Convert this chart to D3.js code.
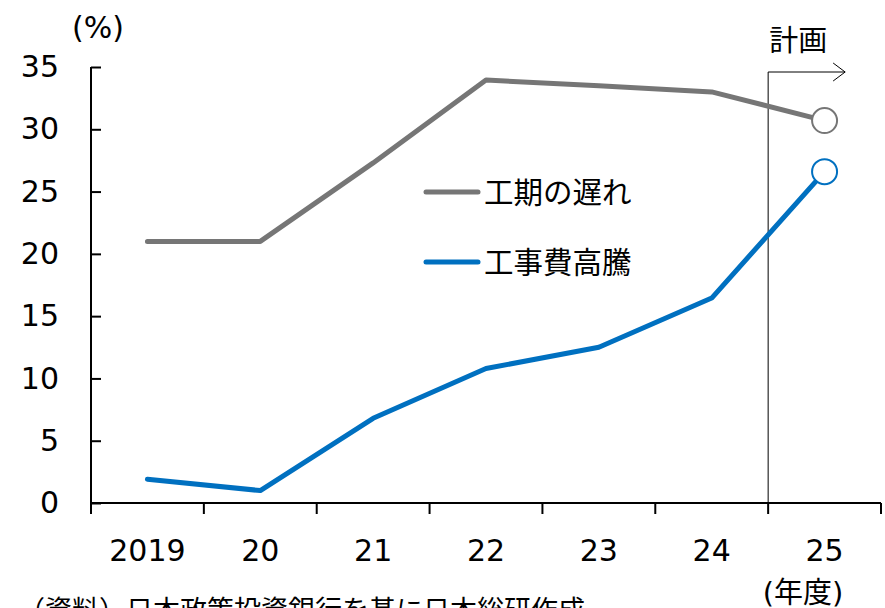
<!DOCTYPE html>
<html>
<head>
<meta charset="utf-8">
<script src="https://cdn.jsdelivr.net/npm/d3@7"></script>
<style>
  body { margin: 0; background: #fff; }
  svg text { font-family: "DejaVu Sans", "Noto Sans CJK JP", sans-serif; fill: #000; }
</style>
</head>
<body>
<div id="chart"></div>
<script>
const years = ["2019", "20", "21", "22", "23", "24", "25"];
const delayValues = [21.0, 21.0, 27.3, 33.95, 33.5, 33.0, 30.7];
const costValues = [1.9, 1.0, 6.8, 10.8, 12.5, 16.45, 26.6];
const yTicks = [0, 5, 10, 15, 20, 25, 30, 35];
const seriesNames = ["工期の遅れ", "工事費高騰"];

const width = 885, height = 608;
const margin = { top: 67, right: 4, bottom: 105, left: 91 };
const colors = { delay: "#767676", cost: "#0070C0" };

const svg = d3.select("#chart").append("svg")
	.attr("width", width)
	.attr("height", height);

const x = d3.scaleBand()
	.domain(years)
	.range([margin.left, width - margin.right]);
const y = d3.scaleLinear()
	.domain([0, 35])
	.range([height - margin.bottom, margin.top]);

// y axis
const yAxis = svg.append("g")
	.attr("transform", `translate(${margin.left},0)`)
	.call(d3.axisRight(y).tickValues(yTicks).tickSize(10).tickFormat(d3.format("d")));
yAxis.select(".domain").attr("stroke", "#000").attr("stroke-width", 2)
	.attr("d", `M0,${y(35)}V${y(0)}`);
yAxis.selectAll(".tick line").attr("stroke", "#000").attr("stroke-width", 2);
yAxis.selectAll(".tick text")
	.attr("x", -32)
	.attr("text-anchor", "end")
	.style("font-size", "30px");

// x axis (ticks at band boundaries)
const xAxis = svg.append("g")
	.attr("transform", `translate(0,${y(0)})`);
xAxis.append("line")
	.attr("x1", margin.left).attr("x2", width - margin.right)
	.attr("stroke", "#000").attr("stroke-width", 2);
const bounds = years.map(d => x(d)).concat([x(years[years.length - 1]) + x.bandwidth()]);
xAxis.selectAll(".xt").data(bounds).enter().append("line")
	.attr("x1", d => d).attr("x2", d => d)
	.attr("y1", 0).attr("y2", 11)
	.attr("stroke", "#000").attr("stroke-width", 2);
xAxis.selectAll(".xl").data(years).enter().append("text")
	.attr("x", d => x(d) + x.bandwidth() / 2)
	.attr("y", 58)
	.attr("text-anchor", "middle")
	.style("font-size", "30px")
	.text(d => d);

// plan marker
const planX = x("25");
svg.append("line")
	.attr("x1", planX).attr("x2", planX)
	.attr("y1", 72).attr("y2", y(0))
	.attr("stroke", "#000").attr("stroke-width", 1);
svg.append("line")
	.attr("x1", planX).attr("x2", planX + 77)
	.attr("y1", 72).attr("y2", 72)
	.attr("stroke", "#000").attr("stroke-width", 1);
svg.append("path")
	.attr("d", `M${planX + 65},63L${planX + 77},72L${planX + 65},81`)
	.attr("fill", "none").attr("stroke", "#000").attr("stroke-width", 1);
svg.append("text")
	.attr("x", planX + 30).attr("y", 51)
	.attr("text-anchor", "middle")
	.style("font-size", "29px")
	.text("計画");

// lines
const line = d3.line()
	.x((d, i) => x(years[i]) + x.bandwidth() / 2)
	.y(d => y(d));

[[delayValues, colors.delay], [costValues, colors.cost]].forEach(([vals, c]) => {
	svg.append("path")
		.datum(vals)
		.attr("d", line)
		.attr("fill", "none")
		.attr("stroke", c)
		.attr("stroke-width", 5)
		.attr("stroke-linejoin", "round")
		.attr("stroke-linecap", "round");
	const last = vals.length - 1;
	svg.append("circle")
		.attr("cx", x(years[last]) + x.bandwidth() / 2)
		.attr("cy", y(vals[last]))
		.attr("r", 12.5)
		.attr("fill", "#fff")
		.attr("stroke", c)
		.attr("stroke-width", 2);
});

// legend
const legend = svg.append("g");
seriesNames.forEach((name, i) => {
	const ly = 192 + i * 70;
	const c = i === 0 ? colors.delay : colors.cost;
	legend.append("line")
		.attr("x1", 426).attr("x2", 478)
		.attr("y1", ly).attr("y2", ly)
		.attr("stroke", c).attr("stroke-width", 5)
		.attr("stroke-linecap", "round");
	legend.append("text")
		.attr("x", 484).attr("y", ly + 11)
		.style("font-size", "29.5px")
		.text(name);
});

// labels
svg.append("text")
	.attr("x", 98).attr("y", 38)
	.attr("text-anchor", "middle")
	.style("font-size", "30px")
	.text("(%)");
svg.append("text")
	.attr("x", 803).attr("y", 603)
	.attr("text-anchor", "middle")
	.style("font-size", "29px")
	.text("(年度)");
svg.append("text")
	.attr("x", 18).attr("y", 620)
	.style("font-size", "27px")
	.text("（資料）日本政策投資銀行を基に日本総研作成");
</script>
</body>
</html>
